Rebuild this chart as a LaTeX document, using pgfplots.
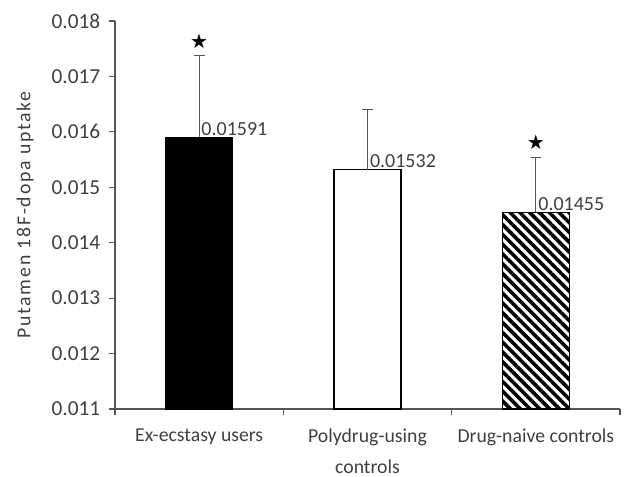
\documentclass[border=0pt]{standalone}
\usepackage{pgfplots}
\pgfplotsset{compat=1.18}
\usepackage{pgfplotstable}
\usepackage{fontspec}
\setmainfont{Carlito}
\newfontfamily\symfont{DejaVu Sans}
\usetikzlibrary{patterns.meta,calc}
\definecolor{txt}{HTML}{404040}
\definecolor{axc}{HTML}{555555}

\pgfplotstableread{
x y e lab
1 0.01591 0.00146 0.01591
}\tabA
\pgfplotstableread{
x y e lab
2 0.01532 0.00109 0.01532
}\tabB
\pgfplotstableread{
x y e lab
3 0.01455 0.00099 0.01455
}\tabC

\begin{document}
\begin{tikzpicture}
\begin{axis}[
  name=ax,
  scale only axis,
  width=378.75pt, height=291pt,
  xmin=0.5, xmax=3.5,
  ymin=0.011, ymax=0.018,
  axis x line=bottom, axis y line=left,
  axis line style={axc, line width=0.8pt, -},
  tick style={axc, line width=0.8pt},
  tick align=outside,
  major tick length=4.5pt,
  xtick={0.5,1.5,2.5,3.5},
  x tick label as interval,
  xticklabels={Ex-ecstasy users, {Polydrug-using\\controls}, Drug-naive controls},
  xticklabel style={align=center, font=\fontsize{14.8}{23.5}\selectfont, text=txt, yshift=-6.75pt},
  ytick distance=0.001,
  scaled y ticks=false,
  yticklabel style={/pgf/number format/fixed, /pgf/number format/precision=3,
    /pgf/number format/fixed zerofill, font=\fontsize{16}{18}\selectfont, text=txt, xshift=-3pt},
  /pgf/number format/assume math mode=true,
  ylabel={Putamen 18F-dopa uptake},
  every axis y label/.style={at={(axis description cs:-0.178,0.5)}, rotate=90, anchor=center,
    font=\addfontfeature{LetterSpace=9}\fontsize{14.8}{17}\selectfont, text=txt},
  clip=false,
  error bars/y dir=plus,
  error bars/y explicit,
  error bars/error bar style={axc, line width=0.8pt},
  error bars/error mark options={rotate=90, mark size=4pt, axc, line width=0.8pt},
  point meta=explicit symbolic,
  nodes near coords,
  every node near coord/.style={anchor=south west, inner sep=1pt, xshift=0.5pt,
    font=\fontsize{15}{17}\selectfont, text=txt},
]
\addplot[ybar, bar width=50.25pt, bar shift=0pt, fill=black, draw=black]
  table[x=x, y=y, y error=e, meta=lab]{\tabA};
\addplot[ybar, bar width=50.25pt, bar shift=0pt, fill=white, draw=black, line width=0.8pt]
  table[x=x, y=y, y error=e, meta=lab]{\tabB};
\addplot[ybar, bar width=50.25pt, bar shift=0pt, draw=black, line width=0.8pt,
  pattern={Lines[angle=-45, distance=5.2pt, line width=2.7pt]}]
  table[x=x, y=y, y error=e, meta=lab]{\tabC};
\addplot[draw=none, mark=none, point meta=explicit symbolic,
  nodes near coords={\symfont ★},
  every node near coord/.style={anchor=center, inner sep=0pt, font=\fontsize{15}{15}\selectfont, text=black}]
  coordinates {(1,0.01764) [s] (3,0.01581) [s]};
\end{axis}
\pgfresetboundingbox
\path ($(ax.south west)+(-86.25pt,-51pt)$) rectangle ($(ax.south west)+(387.75pt,306.75pt)$);
\end{tikzpicture}
\end{document}
